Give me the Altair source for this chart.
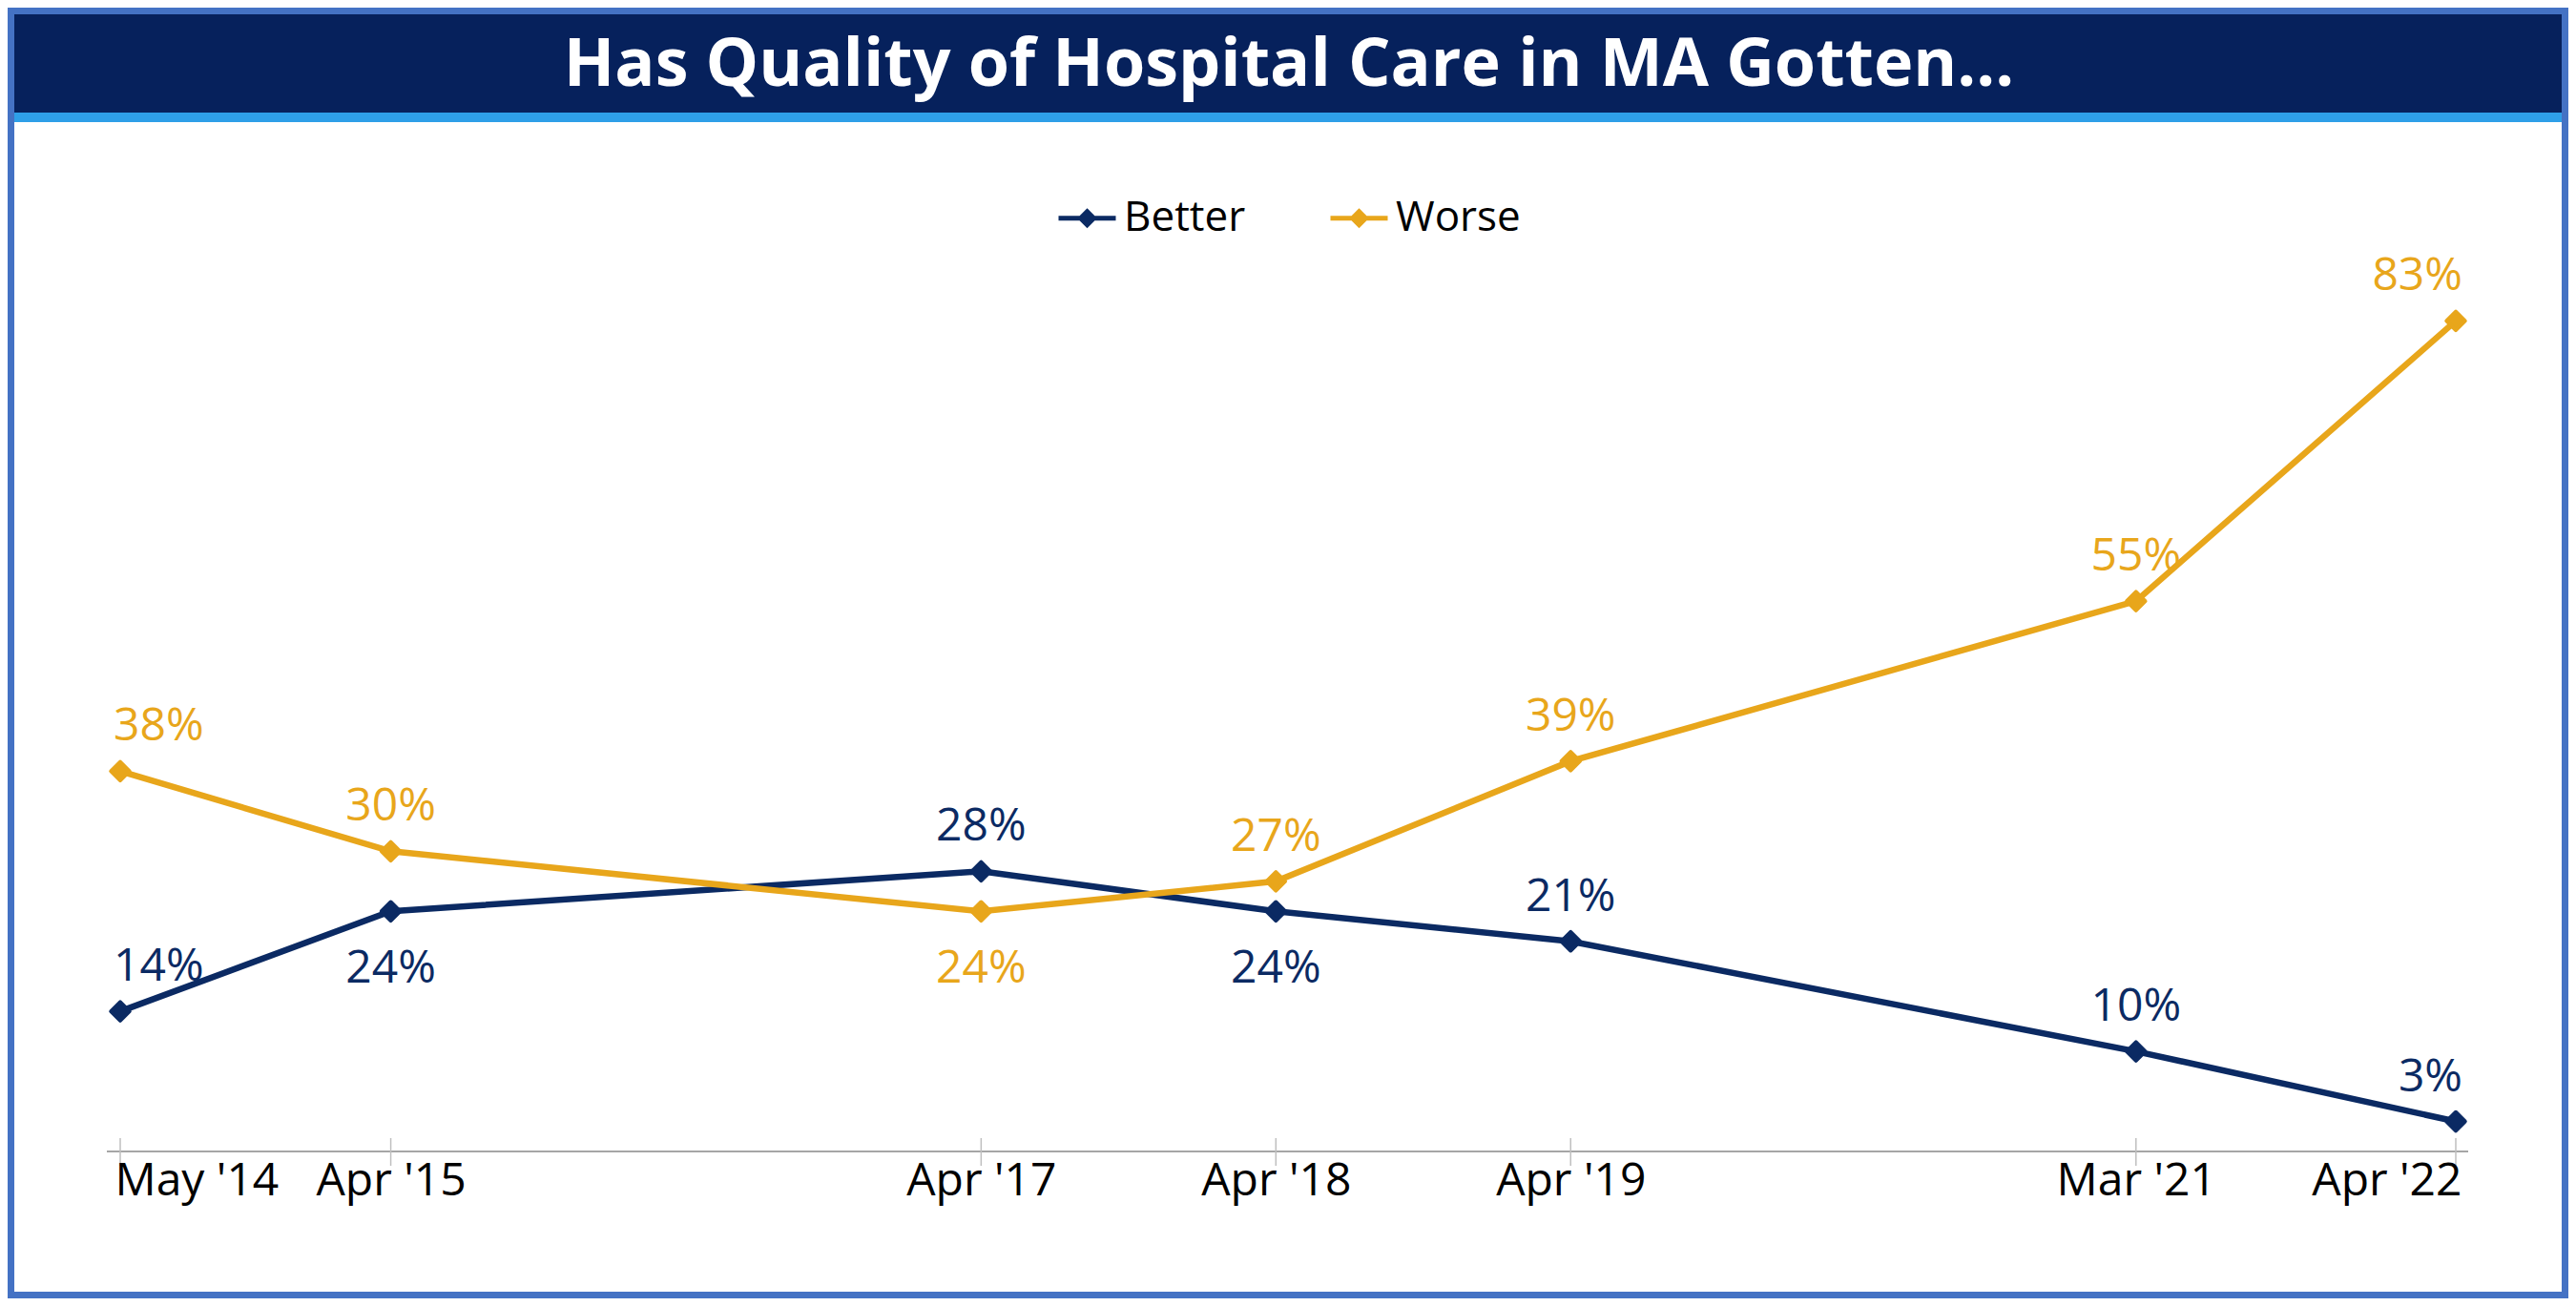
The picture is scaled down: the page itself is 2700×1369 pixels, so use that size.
import altair as alt
import pandas as pd

# ---- data ----
title_text = "Has Quality of Hospital Care in MA Gotten..."
dates = ["2014-05-01", "2015-04-01", "2017-04-01", "2018-04-01",
         "2019-04-01", "2021-03-01", "2022-04-01"]
better = [14, 24, 28, 24, 21, 10, 3]
worse = [38, 30, 24, 27, 39, 55, 83]
series_names = ["Better", "Worse"]
series_colors = ["#0B2A63", "#E8A61B"]

# ---- long table ----
rows = []
n = len(dates)
for i, d in enumerate(dates):
    for name, vals, other in (("Better", better, worse), ("Worse", worse, better)):
        v, o = vals[i], other[i]
        side = "below" if (o > v and o - v <= 10) else "above"
        hpos = "left" if i == 0 else ("right" if i == n - 1 else "center")
        rows.append({"date": d, "series": name, "value": v,
                     "label": f"{v}%", "side": side, "hpos": hpos})
df = pd.DataFrame(rows)

# ---- layout (pixels) ----
W, H = 2448, 944
PL, PT, PR, PB = 118, 255, 118, 154
SVG_W, SVG_H = PL + W + PR, PT + H + PB
B = 7
BORDER_COLOR = "#4472C4"

color_scale = alt.Scale(domain=series_names, range=series_colors)
x_scale = alt.Scale(type="utc", nice=False,
                    domain=[alt.DateTime(year=2014, month=5, date=1, utc=True),
                            alt.DateTime(year=2022, month=4, date=1, utc=True)])
y_scale = alt.Scale(domain=[0, 90], nice=False, zero=True)

tick_values = [alt.DateTime(year=int(d[:4]), month=int(d[5:7]), date=1, utc=True) for d in dates]

X = alt.X("date:T", scale=x_scale, title=None,
          axis=alt.Axis(values=tick_values, format="%b '%y", domain=False, ticks=False,
                        grid=False, labelFont="Open Sans", labelFontSize=48,
                        labelColor="#000000", labelPadding=7, labelFlush=True,
                        labelFlushOffset=6, labelOverlap=False, zindex=2))
Y = alt.Y("value:Q", scale=y_scale, axis=None)

legend_path = ("M-1,0L1,0"
               "M0,-0.23L0.23,0L0,0.23L-0.23,0Z"
               "M0,-0.1L0.1,0L0,0.1L-0.1,0Z")
COLOR = alt.Color("series:N", scale=color_scale, title=None,
                  legend=alt.Legend(orient="none", legendX=981, legendY=-67,
                                    direction="horizontal", symbolType=legend_path,
                                    symbolSize=3600, symbolStrokeWidth=5,
                                    symbolFillColor="transparent",
                                    labelFont="Open Sans", labelFontSize=44,
                                    labelColor="#000000", labelOffset=6,
                                    columnPadding=78, labelLimit=0, zindex=2))

one = pd.DataFrame({"k": [0]})

def px_rect(x1, x2, y1, y2, color):
    return alt.Chart(one).mark_rect(color=color).encode(
        x=alt.value(x1), x2=alt.value(x2), y=alt.value(y1), y2=alt.value(y2))

# frame (4 sides), title band, stripe
left_b = px_rect(-PL, B - PL, -PT, SVG_H - PT, BORDER_COLOR)
right_b = px_rect(SVG_W - B - PL, SVG_W - PL, -PT, SVG_H - PT, BORDER_COLOR)
top_b = px_rect(-PL, SVG_W - PL, -PT, B - PT, BORDER_COLOR)
bottom_b = px_rect(-PL, SVG_W - PL, SVG_H - B - PT, SVG_H - PT, BORDER_COLOR)
band = px_rect(B - PL, SVG_W - B - PL, B - PT, 110 - PT, "#06215C")
stripe = px_rect(B - PL, SVG_W - B - PL, 110 - PT, 120 - PT, "#2E9FE8")

title = alt.Chart(one).mark_text(
    text=title_text, font="Open Sans", fontSize=70, fontWeight="bold",
    color="#FFFFFF", align="center", baseline="alphabetic"
).encode(x=alt.value(1225), y=alt.value(-173))

axis_line = alt.Chart(one).mark_rule(color="#A6A6A6", strokeWidth=2).encode(
    x=alt.value(-14), x2=alt.value(W + 13), y=alt.value(H))

ticks = alt.Chart(df[df.series == "Better"]).mark_rule(color="#BFBFBF", strokeWidth=1.5).encode(
    x=X, y=alt.value(H - 14), y2=alt.value(H + 15))

lines = alt.Chart(df).mark_line(strokeWidth=6.5).encode(
    x=X, y=Y, color=COLOR, detail="series:N")

points = alt.Chart(df).mark_point(shape="diamond", filled=True, size=380, opacity=1,
                                  strokeWidth=4, strokeJoin="round").encode(
    x=X, y=Y, color=COLOR,
    stroke=alt.Stroke("series:N", scale=color_scale, legend=None))

text_layers = []
for side, dy in (("above", -32), ("below", 75)):
    for hpos, dx in (("left", -7), ("center", 0), ("right", 7)):
        text_layers.append(
            alt.Chart(df).mark_text(align=hpos, baseline="alphabetic", dx=dx, dy=dy,
                                    font="Open Sans", fontSize=48).encode(
                x=X, y=Y, text="label:N", color=COLOR
            ).transform_filter((alt.datum.side == side) & (alt.datum.hpos == hpos)))

chart = alt.layer(left_b, right_b, top_b, bottom_b, band, stripe, title, axis_line, ticks,
                  *text_layers, lines, points).properties(
    width=W, height=H,
    autosize=alt.AutoSizeParams(type="none"),
    padding={"left": PL, "top": PT, "right": PR, "bottom": PB},
).configure(background="#FFFFFF").configure_view(strokeWidth=0)

chart.save("out.html", embed_options={"renderer": "svg", "actions": False})
